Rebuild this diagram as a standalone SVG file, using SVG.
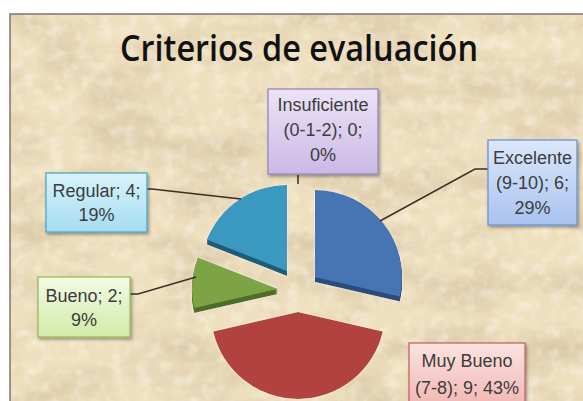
<svg xmlns="http://www.w3.org/2000/svg" xmlns:xlink="http://www.w3.org/1999/xlink" width="583" height="401" viewBox="0 0 583 401">
<style>
  .lbl { font-family: "Liberation Sans", Arial, sans-serif; font-size: 18px; fill: #3c3c3c; text-anchor: middle; }
  .title { font-family: "Open Sans", "Liberation Sans", Arial, sans-serif; font-weight: 600; font-size: 36px; fill: #111; text-anchor: middle; }
  .box { stroke-width: 1.3; filter: url(#shadow); }
  .lead { fill: none; stroke: #3a2f22; stroke-width: 1.5; }
</style>
<defs>
  <filter id="paper" x="0" y="0" width="100%" height="100%">
    <feTurbulence type="fractalNoise" baseFrequency="0.012 0.03" numOctaves="4" seed="7" result="n"/>
    <feColorMatrix in="n" type="matrix" values="0 0 0 0 0.62  0 0 0 0 0.50  0 0 0 0 0.33  0 0 0 -1.3 0.8" result="c"/>
    <feComposite in="c" in2="SourceGraphic" operator="in"/>
  </filter>
  <filter id="paper2" x="0" y="0" width="100%" height="100%">
    <feTurbulence type="fractalNoise" baseFrequency="0.08" numOctaves="3" seed="2" result="n"/>
    <feColorMatrix in="n" type="matrix" values="0 0 0 0 1  0 0 0 0 0.98  0 0 0 0 0.92  0 0 0 2.0 -0.9" result="c"/>
    <feComposite in="c" in2="SourceGraphic" operator="in"/>
  </filter>
  <filter id="shadow" x="-10%" y="-10%" width="130%" height="130%">
    <feDropShadow dx="1.5" dy="2" stdDeviation="1.5" flood-color="#000" flood-opacity="0.35"/>
  </filter>
  <filter id="glow" x="-10%" y="-10%" width="120%" height="120%">
    <feDropShadow dx="0" dy="0" stdDeviation="1.2" flood-color="#fffaf0" flood-opacity="0.9"/>
  </filter>
  <linearGradient id="gPur" x1="0" y1="0" x2="0" y2="1"><stop offset="0" stop-color="#ece3f7"/><stop offset="1" stop-color="#cbb9e6"/></linearGradient>
  <linearGradient id="gBlu" x1="0" y1="0" x2="0" y2="1"><stop offset="0" stop-color="#dbe7fb"/><stop offset="1" stop-color="#a9c3ef"/></linearGradient>
  <linearGradient id="gTea" x1="0" y1="0" x2="0" y2="1"><stop offset="0" stop-color="#d8f3fb"/><stop offset="1" stop-color="#a4dcf0"/></linearGradient>
  <linearGradient id="gGre" x1="0" y1="0" x2="0" y2="1"><stop offset="0" stop-color="#f3fbe4"/><stop offset="1" stop-color="#d2eaa8"/></linearGradient>
  <linearGradient id="gRed" x1="0" y1="0" x2="0" y2="1"><stop offset="0" stop-color="#fbe3e1"/><stop offset="1" stop-color="#f1b2ae"/></linearGradient>
  <path id="sBlue" d="M315,277 L315,190 A87,87 0 0 1 399.8,296.4 Z"/>
  <path id="sTeal" d="M287,271 L206.9,239.6 A86,86 0 0 1 287,185 Z"/>
  <path id="sGreen" d="M278,289 L194.2,308.1 A86,86 0 0 1 197.9,257.6 Z"/>
  <path id="sRed" d="M298,312 L382.8,331.4 A87,87 0 0 1 213.2,331.4 Z"/>
</defs>

<rect x="0" y="0" width="583" height="401" fill="#ffffff"/>
<g id="background">
  <rect x="10" y="14" width="600" height="420" fill="#eedfbe"/>
  <rect x="10" y="14" width="600" height="420" fill="#fff" filter="url(#paper)"/>
  <rect x="10" y="14" width="600" height="420" fill="#fff" filter="url(#paper2)" opacity="0.5"/>
  <rect x="10" y="14" width="600" height="420" fill="none" stroke="#7d766c" stroke-width="1.5"/>
</g>

<text id="title" class="title" x="299" y="61" textLength="358" lengthAdjust="spacingAndGlyphs">Criterios de evaluación</text>

<g id="pie">
  <g id="slice-excelente" filter="url(#glow)">
    <use xlink:href="#sBlue" href="#sBlue" fill="#2b4d7e" transform="translate(0,5)"/>
    <use xlink:href="#sBlue" href="#sBlue" fill="#2b4d7e" transform="translate(0,4)"/>
    <use xlink:href="#sBlue" href="#sBlue" fill="#2b4d7e" transform="translate(0,3)"/>
    <use xlink:href="#sBlue" href="#sBlue" fill="#2b4d7e" transform="translate(0,2)"/>
    <use xlink:href="#sBlue" href="#sBlue" fill="#2b4d7e" transform="translate(0,1)"/>
    <use xlink:href="#sBlue" href="#sBlue" fill="#4674b3"/>
  </g>
  <g id="slice-regular" filter="url(#glow)">
    <use xlink:href="#sTeal" href="#sTeal" fill="#1f5d79" transform="translate(0,5)"/>
    <use xlink:href="#sTeal" href="#sTeal" fill="#1f5d79" transform="translate(0,4)"/>
    <use xlink:href="#sTeal" href="#sTeal" fill="#1f5d79" transform="translate(0,3)"/>
    <use xlink:href="#sTeal" href="#sTeal" fill="#1f5d79" transform="translate(0,2)"/>
    <use xlink:href="#sTeal" href="#sTeal" fill="#1f5d79" transform="translate(0,1)"/>
    <use xlink:href="#sTeal" href="#sTeal" fill="#3a98bf"/>
  </g>
  <g id="slice-bueno" filter="url(#glow)">
    <use xlink:href="#sGreen" href="#sGreen" fill="#4f6e2a" transform="translate(0,5)"/>
    <use xlink:href="#sGreen" href="#sGreen" fill="#4f6e2a" transform="translate(0,4)"/>
    <use xlink:href="#sGreen" href="#sGreen" fill="#4f6e2a" transform="translate(0,3)"/>
    <use xlink:href="#sGreen" href="#sGreen" fill="#4f6e2a" transform="translate(0,2)"/>
    <use xlink:href="#sGreen" href="#sGreen" fill="#4f6e2a" transform="translate(0,1)"/>
    <use xlink:href="#sGreen" href="#sGreen" fill="#7ca445"/>
  </g>
  <g id="slice-muybueno" filter="url(#glow)">
    <use xlink:href="#sRed" href="#sRed" fill="#b1423f"/>
  </g>
</g>

<g id="connectors">
  <polyline class="lead" points="488,169 475,169 380,221"/>
  <polyline class="lead" points="147,189 152,189 241,199"/>
  <polyline class="lead" points="130,294 138,294 196,277"/>
  <line class="lead" x1="298" y1="175" x2="298" y2="184"/>
</g>

<g id="label-insuficiente">
  <rect class="box" x="268" y="89" width="110" height="85" fill="url(#gPur)" stroke="#9a86bf"/>
  <text class="lbl" x="323" y="111">Insuficiente</text>
  <text class="lbl" x="323" y="136">(0-1-2); 0;</text>
  <text class="lbl" x="323" y="161">0%</text>
</g>
<g id="label-excelente">
  <rect class="box" x="488" y="140" width="89" height="85" fill="url(#gBlu)" stroke="#6d93d6"/>
  <text class="lbl" x="532.5" y="164">Excelente</text>
  <text class="lbl" x="532.5" y="189">(9-10); 6;</text>
  <text class="lbl" x="532.5" y="214">29%</text>
</g>
<g id="label-regular">
  <rect class="box" x="46" y="173" width="101" height="59" fill="url(#gTea)" stroke="#4aa9c8"/>
  <text class="lbl" x="96.5" y="197">Regular; 4;</text>
  <text class="lbl" x="96.5" y="221">19%</text>
</g>
<g id="label-bueno">
  <rect class="box" x="38" y="277" width="92" height="60" fill="url(#gGre)" stroke="#9bbb59"/>
  <text class="lbl" x="84" y="302">Bueno; 2;</text>
  <text class="lbl" x="84" y="326">9%</text>
</g>
<g id="label-muybueno">
  <rect class="box" x="409" y="343" width="116" height="70" fill="url(#gRed)" stroke="#c66562"/>
  <text class="lbl" x="467" y="367">Muy Bueno</text>
  <text class="lbl" x="467" y="394">(7-8); 9; 43%</text>
</g>
</svg>
